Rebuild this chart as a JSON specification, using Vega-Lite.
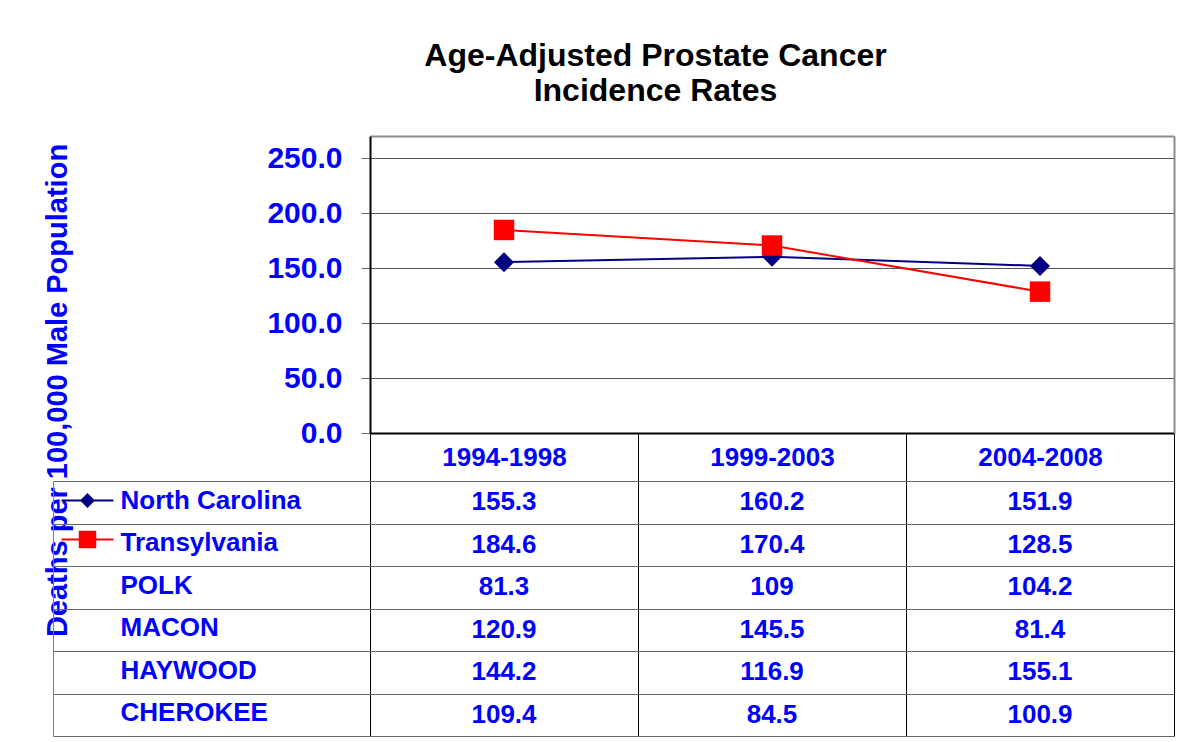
{
  "$schema": "https://vega.github.io/schema/vega-lite/v6.json",
  "width": 1121,
  "height": 600,
  "autosize": {"type": "none"},
  "padding": {"left": 53, "top": 136, "right": 22, "bottom": 6},
  "background": "#ffffff",
  "title": {
    "text": ["Age-Adjusted Prostate Cancer", "Incidence Rates"],
    "font": "Liberation Sans",
    "fontSize": 32,
    "fontWeight": "bold",
    "color": "#000000",
    "anchor": "middle",
    "frame": "group",
    "dx": 42,
    "baseline": "bottom",
    "lineHeight": 35,
    "offset": -17
  },
  "data": {
    "values": [
      {"region": "North Carolina", "period": "1994-1998", "rate": 155.3},
      {"region": "North Carolina", "period": "1999-2003", "rate": 160.2},
      {"region": "North Carolina", "period": "2004-2008", "rate": 151.9},
      {"region": "Transylvania", "period": "1994-1998", "rate": 184.6},
      {"region": "Transylvania", "period": "1999-2003", "rate": 170.4},
      {"region": "Transylvania", "period": "2004-2008", "rate": 128.5},
      {"region": "POLK", "period": "1994-1998", "rate": 81.3},
      {"region": "POLK", "period": "1999-2003", "rate": 109},
      {"region": "POLK", "period": "2004-2008", "rate": 104.2},
      {"region": "MACON", "period": "1994-1998", "rate": 120.9},
      {"region": "MACON", "period": "1999-2003", "rate": 145.5},
      {"region": "MACON", "period": "2004-2008", "rate": 81.4},
      {"region": "HAYWOOD", "period": "1994-1998", "rate": 144.2},
      {"region": "HAYWOOD", "period": "1999-2003", "rate": 116.9},
      {"region": "HAYWOOD", "period": "2004-2008", "rate": 155.1},
      {"region": "CHEROKEE", "period": "1994-1998", "rate": 109.4},
      {"region": "CHEROKEE", "period": "1999-2003", "rate": 84.5},
      {"region": "CHEROKEE", "period": "2004-2008", "rate": 100.9}
    ]
  },
  "layer": [
    {
      "transform": [{"filter": {"field": "region", "oneOf": ["North Carolina", "Transylvania"]}}],
      "mark": {"type": "line", "strokeWidth": 2},
      "encoding": {
        "x": {
          "field": "period", "type": "nominal",
          "scale": {"domain": ["1994-1998", "1999-2003", "2004-2008"], "range": [317, 1121], "paddingInner": 0, "paddingOuter": 0},
          "axis": {"orient": "top", "title": null, "labels": false, "ticks": false, "grid": false, "domainColor": "#8c8c8c", "domainWidth": 2}
        },
        "y": {
          "field": "rate", "type": "quantitative",
          "scale": {"domain": [0, 270], "range": [297, 0], "nice": false, "zero": true},
          "axis": {
            "orient": "left", "offset": -317,
            "values": [0, 50, 100, 150, 200, 250], "format": ".1f",
            "labelFont": "Liberation Sans", "labelFontSize": 30, "labelFontWeight": "bold", "labelColor": "#0000FF",
            "labelPadding": 19, "tickSize": 9, "tickColor": "#666666", "tickWidth": 1,
            "domainColor": "#000000", "domainWidth": 2,
            "grid": true, "gridColor": "#555555", "gridWidth": 1,
            "title": "Deaths per 100,000 Male Population",
            "titleFont": "Liberation Sans", "titleFontSize": 29, "titleFontWeight": "bold", "titleColor": "#0000FF",
            "titleAngle": -90, "titleAlign": "center", "titleBaseline": "middle",
            "titleX": -313, "titleY": 254
          }
        },
        "color": {
          "field": "region", "type": "nominal",
          "scale": {"domain": ["North Carolina", "Transylvania"], "range": ["#000080", "#FF0000"]},
          "legend": {
            "orient": "none", "legendX": 24.5, "legendY": 354.5,
            "title": null, "padding": 0, "symbolSize": 324, "rowPadding": 16,
            "labelExpr": "''", "labelFontSize": 1, "labelLimit": 1, "symbolStrokeWidth": 2,
            "encode": {
              "symbols": {
                "update": {
                  "shape": {"signal": "datum.value == 'North Carolina' ? 'M-2.89,0H2.89M0,-0.67L0.67,0L0,0.67L-0.67,0Z' : 'M-2.89,0H2.89M-0.86,-0.86H0.86V0.86H-0.86Z'"},
                  "fill": {"signal": "datum.value == 'North Carolina' ? '#000080' : '#FF0000'"},
                  "stroke": {"signal": "datum.value == 'North Carolina' ? '#000080' : '#FF0000'"},
                  "strokeWidth": {"value": 2},
                  "opacity": {"value": 1},
                  "fillOpacity": {"value": 1},
                  "strokeOpacity": {"value": 1}
                }
              }
            }
          }
        }
      }
    },
    {
      "transform": [{"filter": {"field": "region", "equal": "North Carolina"}}],
      "mark": {"type": "point", "shape": "diamond", "filled": true, "size": 400, "opacity": 1, "strokeWidth": 0},
      "encoding": {
        "x": {
          "field": "period", "type": "nominal",
          "scale": {"domain": ["1994-1998", "1999-2003", "2004-2008"], "range": [317, 1121], "paddingInner": 0, "paddingOuter": 0},
          "axis": null
        },
        "y": {
          "field": "rate", "type": "quantitative",
          "scale": {"domain": [0, 270], "range": [297, 0], "nice": false, "zero": true},
          "axis": null
        },
        "color": {
          "field": "region", "type": "nominal",
          "scale": {"domain": ["North Carolina", "Transylvania"], "range": ["#000080", "#FF0000"]}
        }
      }
    },
    {
      "transform": [{"filter": {"field": "region", "equal": "Transylvania"}}],
      "mark": {"type": "point", "shape": "square", "filled": true, "size": 420, "opacity": 1, "strokeWidth": 0},
      "encoding": {
        "x": {
          "field": "period", "type": "nominal",
          "scale": {"domain": ["1994-1998", "1999-2003", "2004-2008"], "range": [317, 1121], "paddingInner": 0, "paddingOuter": 0},
          "axis": null
        },
        "y": {
          "field": "rate", "type": "quantitative",
          "scale": {"domain": [0, 270], "range": [297, 0], "nice": false, "zero": true},
          "axis": {"orient": "right", "title": null, "labels": false, "ticks": false, "grid": false, "domainColor": "#8c8c8c", "domainWidth": 2}
        },
        "color": {
          "field": "region", "type": "nominal",
          "scale": {"domain": ["North Carolina", "Transylvania"], "range": ["#000080", "#FF0000"]}
        }
      }
    },
    {
      "mark": {"type": "text", "font": "Liberation Sans", "fontSize": 26, "fontWeight": "bold", "color": "#0000FF", "align": "center", "baseline": "middle"},
      "encoding": {
        "x": {
          "field": "period", "type": "nominal",
          "scale": {"domain": ["1994-1998", "1999-2003", "2004-2008"], "range": [317, 1121], "paddingInner": 0, "paddingOuter": 0},
          "axis": {
            "orient": "bottom", "offset": -303, "title": null, "grid": false,
            "tickBand": "extent", "tickSize": 303, "tickColor": "#000000", "tickWidth": 1,
            "domainColor": "#000000", "domainWidth": 2,
            "labelAngle": 0, "labelFont": "Liberation Sans", "labelFontSize": 26, "labelFontWeight": "bold", "labelColor": "#0000FF",
            "labelBaseline": "middle", "labelPadding": -279
          }
        },
        "y": {
          "field": "region", "type": "nominal",
          "scale": {"domain": ["North Carolina", "Transylvania", "POLK", "MACON", "HAYWOOD", "CHEROKEE"], "range": [345, 600], "paddingInner": 0, "paddingOuter": 0},
          "axis": {
            "orient": "left", "offset": 0, "title": null, "grid": false,
            "tickBand": "extent", "tickSize": -1121, "tickColor": "#666666", "tickWidth": 1,
            "domainColor": "#808080", "domainWidth": 1,
            "labelAlign": "left", "labelPadding": 1054, "labelLimit": 0, "labelOffset": -2,
            "labelFont": "Liberation Sans", "labelFontSize": 26, "labelFontWeight": "bold", "labelColor": "#0000FF"
          }
        },
        "text": {"field": "rate", "type": "quantitative", "format": "~f"}
      }
    }
  ],
  "resolve": {"scale": {"x": "independent", "y": "independent"}},
  "config": {"view": {"stroke": null}, "font": "Liberation Sans"}
}
